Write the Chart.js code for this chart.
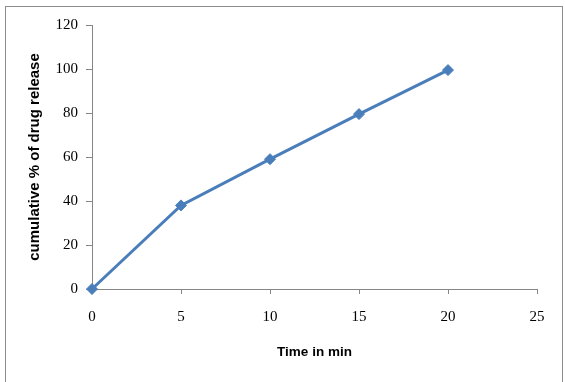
<!DOCTYPE html>
<html>
<head>
<meta charset="utf-8">
<script src="https://cdn.jsdelivr.net/npm/chart.js@4"></script>
<style>
  html, body { margin: 0; padding: 0; background: #fff; }
  #wrap { width: 565px; height: 382px; position: relative; }
</style>
</head>
<body>
<div id="wrap"><canvas id="releaseChart" width="565" height="382"></canvas></div>
<script>
// Datos
const timeMin = [0, 5, 10, 15, 20];
const drugRelease = [0, 38, 59, 79.5, 99.5];
const xTicks = [0, 5, 10, 15, 20, 25];
const yTicks = [0, 20, 40, 60, 80, 100, 120];

const axisGrey = '#868686';
const lineBlue = '#4a7ebb';

// Marco exterior
const frame = {
    id: 'frame',
    beforeDraw(chart) {
        const ctx = chart.ctx;
        ctx.save();
        ctx.strokeStyle = '#8c8c8c';
        ctx.lineWidth = 1;
        ctx.strokeRect(5.5, 6.5, 557, 400);
        ctx.restore();
    }
};

const tickFont = { family: '"Liberation Serif", "Times New Roman", serif', size: 15 };
const xTitleFont = { family: '"Liberation Sans", Arial, sans-serif', size: 13.5, weight: 'bold' };
const yTitleFont = { family: '"Liberation Sans", Arial, sans-serif', size: 15, weight: 'bold' };

new Chart(document.getElementById('releaseChart').getContext('2d'), {
    type: 'line',
    data: {
        datasets: [{
            data: timeMin.map((t, i) => ({ x: t, y: drugRelease[i] })),
            borderColor: lineBlue,
            backgroundColor: lineBlue,
            borderWidth: 3,
            pointStyle: 'rectRot',
            pointRadius: 5.5,
            pointBorderWidth: 1,
            tension: 0,
            clip: false
        }]
    },
    options: {
        responsive: false,
        animation: false,
        layout: { padding: { left: 0, top: 25, right: 28, bottom: 0 } },
        plugins: {
            legend: { display: false },
            tooltip: { enabled: false }
        },
        scales: {
            x: {
                type: 'linear',
                min: 0,
                max: 25,
                afterBuildTicks: (scale) => { scale.ticks = xTicks.map(v => ({ value: v })); },
                afterFit: (scale) => { scale.height = 93; },
                grid: { drawOnChartArea: false, drawTicks: true, tickLength: 5, color: axisGrey },
                border: { color: axisGrey, width: 1 },
                ticks: { color: '#000', font: tickFont, padding: 14, maxRotation: 0 },
                title: { display: true, text: 'Time in min', color: '#000', font: xTitleFont, padding: { top: 0, bottom: 22 } }
            },
            y: {
                min: 0,
                max: 120,
                afterBuildTicks: (scale) => { scale.ticks = yTicks.map(v => ({ value: v })); },
                afterFit: (scale) => { scale.width = 92; },
                grid: { drawOnChartArea: false, drawTicks: true, tickLength: 6, color: axisGrey },
                border: { color: axisGrey, width: 1 },
                ticks: { color: '#000', font: tickFont, padding: 8 },
                title: { display: true, text: 'cumulative % of drug release', color: '#000', font: yTitleFont, padding: { top: 26, bottom: 0 } }
            }
        }
    },
    plugins: [frame]
});
</script>
</body>
</html>
